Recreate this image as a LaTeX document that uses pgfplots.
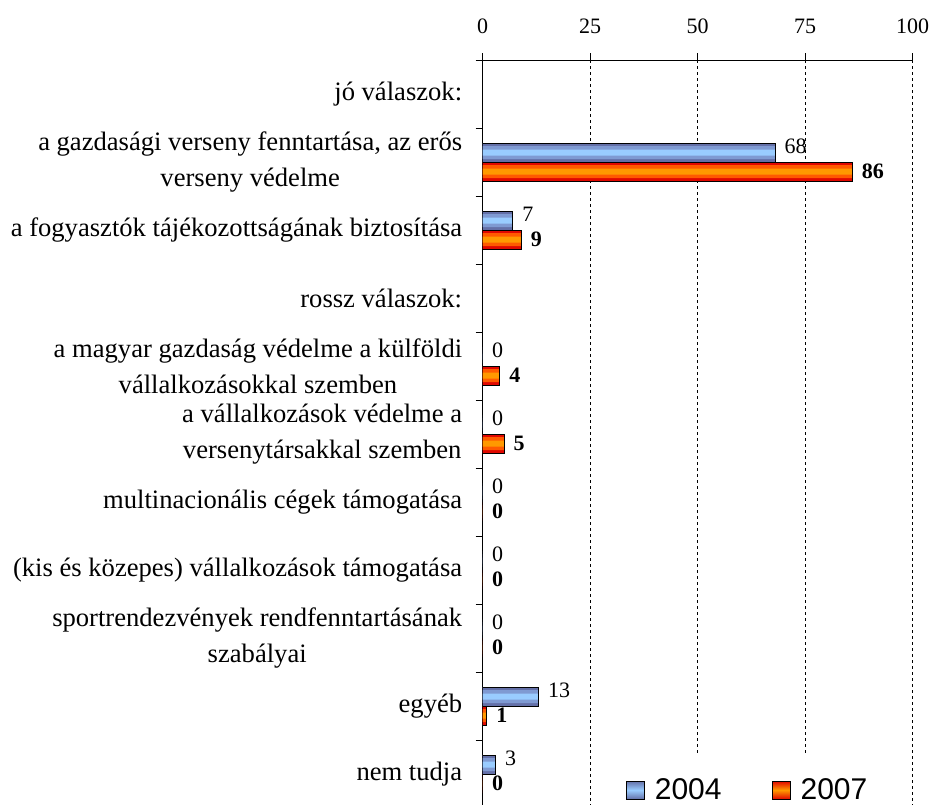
\documentclass[border=0pt]{standalone}
\usepackage{pgfplots}
\usepackage{pgfplotstable}
\pgfplotsset{compat=1.18}
\usepackage{fontspec}
\setmainfont{Liberation Serif}
\newfontfamily\arial{Liberation Sans}
\definecolor{bdark}{HTML}{6470A8}
\definecolor{bmid}{HTML}{7F9AD2}
\definecolor{blight}{HTML}{99CCFF}
\definecolor{odark}{HTML}{E00800}
\definecolor{omid}{HTML}{FF5A00}
\definecolor{olight}{HTML}{FF9900}
\pgfplotstableread{
val pos
68 1
7 2
0 4
0 5
0 6
0 7
0 8
13 9
3 10
}\dataA
\pgfplotstableread{
val pos
86 1
9 2
4 4
5 5
0 6
0 7
0 8
1 9
0 10
}\dataB
\begin{document}
\begin{tikzpicture}
\begin{axis}[
  at={(0,0)}, anchor=north west,
  scale only axis, width=430pt, height=748pt,
  xbar=0pt, bar width=19pt,
  /pgf/number format/assume math mode=true,
  xmin=0, xmax=100, xtick={0,25,50,75,100},
  ymin=-0.5, ymax=10.5, y dir=reverse,
  ytick={0,...,10},
  yticklabels={
    {jó válaszok:},
    {a gazdasági verseny fenntartása, az erős\\verseny védelme},
    {a fogyasztók tájékozottságának biztosítása},
    {rossz válaszok:},
    {a magyar gazdaság védelme a külföldi\\vállalkozásokkal szemben},
    {a vállalkozások védelme a\\versenytársakkal szemben},
    {multinacionális cégek támogatása},
    {(kis és közepes) vállalkozások támogatása},
    {sportrendezvények rendfenntartásának\\szabályai},
    {egyéb},
    {nem tudja}},
  minor ytick={-0.5,0.5,...,10.5},
  axis x line=top, axis y line=left,
  axis line style={-, black, line width=0.9pt},
  tick align=outside,
  major tick length=7pt, minor tick length=7pt,
  every tick/.style={black, line width=0.9pt},
  major y tick style={draw=none},
  xmajorgrids,
  major grid style={black, dash pattern=on 3pt off 3pt, line width=0.8pt},
  xticklabel style={font=\fontsize{22}{22}\selectfont, anchor=base, yshift=20pt},
  yticklabel style={font=\fontsize{26.6}{36}\selectfont, align=center, anchor=east, xshift=-10pt},
  legend style={at={(axis description cs:0.616,0.024)}, anchor=center,
    draw=none, fill=white, inner xsep=10pt, inner ysep=24pt,
    font=\arial\fontsize{30}{30}\selectfont,
    /tikz/every odd column/.append style={column sep=8pt},
    /tikz/every even column/.append style={column sep=48pt}},
  legend columns=2,
]
% 2004
\addplot[forget plot, draw=none, fill=bdark, bar width=19pt, bar shift=9.5pt] table[x=val,y=pos]{\dataA};
\addplot[forget plot, draw=none, fill=bmid, bar width=13pt, bar shift=9.5pt] table[x=val,y=pos]{\dataA};
\addplot[forget plot, draw=none, fill=blight, bar width=6pt, bar shift=9.5pt] table[x=val,y=pos]{\dataA};
\addplot[draw=black, fill=none, line width=1pt, bar width=19pt, bar shift=9.5pt,
  nodes near coords,
  every node near coord/.append style={anchor=west, inner sep=0pt, xshift=9pt, yshift=6pt, black, font=\fontsize{22}{22}\selectfont},
  legend image code/.code={\draw[black, line width=1pt, top color=bdark, bottom color=bdark, middle color=blight] (0pt,-9pt) rectangle (18pt,9pt);}]
  table[x=val,y=pos]{\dataA};
% 2007
\addplot[forget plot, draw=none, fill=odark, bar width=19pt, bar shift=-9.5pt] table[x=val,y=pos]{\dataB};
\addplot[forget plot, draw=none, fill=omid, bar width=13pt, bar shift=-9.5pt] table[x=val,y=pos]{\dataB};
\addplot[forget plot, draw=none, fill=olight, bar width=6pt, bar shift=-9.5pt] table[x=val,y=pos]{\dataB};
\addplot[draw=black, fill=none, line width=1pt, bar width=19pt, bar shift=-9.5pt,
  nodes near coords,
  every node near coord/.append style={anchor=west, inner sep=0pt, xshift=9pt, black, font=\bfseries\fontsize{22}{22}\selectfont},
  legend image code/.code={\draw[black, line width=1pt, top color=odark, bottom color=odark, middle color=olight] (0pt,-9pt) rectangle (18pt,9pt);}]
  table[x=val,y=pos]{\dataB};
\legend{2004,2007}
\end{axis}
\pgfresetboundingbox
\useasboundingbox (-482.7pt,60pt) rectangle (449.3pt,-744pt);
\end{tikzpicture}
\end{document}
